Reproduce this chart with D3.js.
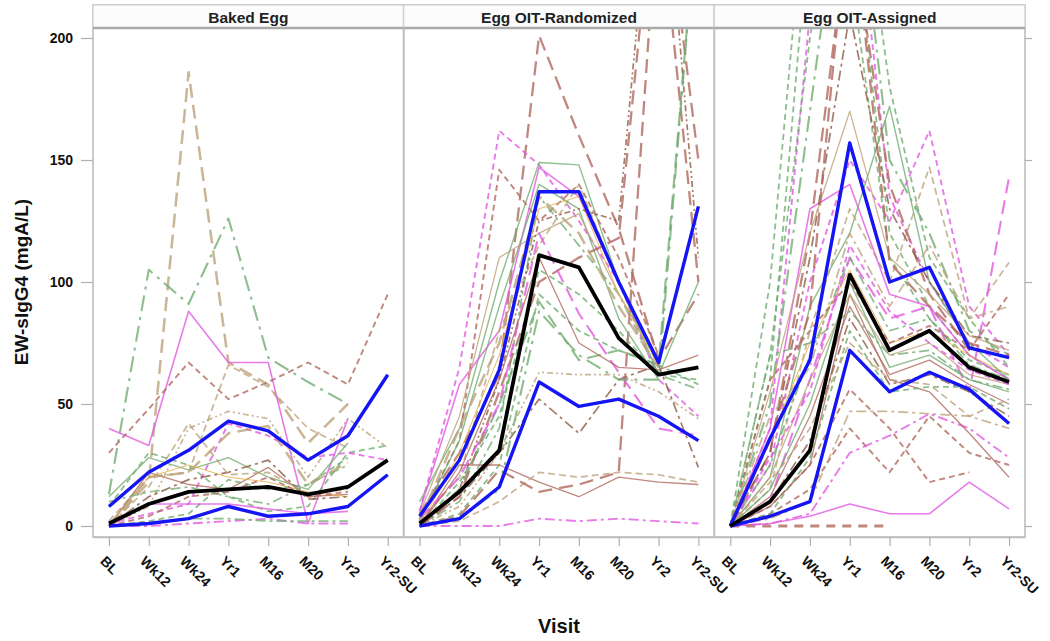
<!DOCTYPE html>
<html>
<head>
<meta charset="utf-8">
<script src="https://cdn.jsdelivr.net/npm/d3@7"></script>
<style>
  html, body { margin: 0; padding: 0; background: #fff; }
  svg { display: block; font-family: "Liberation Sans", Arial, sans-serif; }
</style>
</head>
<body>
<svg id="chart" width="1050" height="641"></svg>
<script>
// ---------------- DATA ----------------
const visits = ["BL", "Wk12", "Wk24", "Yr1", "M16", "M20", "Yr2", "Yr2-SU"];
const panelTitles = ["Baked Egg", "Egg OIT-Randomized", "Egg OIT-Assigned"];
const yTicks = [0, 50, 100, 150, 200];

// Baked Egg: individual subjects (BL..Yr2-SU)
const bakedEggSubjects = [
  [0, 18, 186, 67, 58, 34, 50, null],
  [13, 105, 91, 126, 69, 59, 50, null],
  [40, 33, 88, 67, 67, 1, 44, null],
  [30, 48, 67, 52, 59, 67, 58, 95],
  [2, 20, 22, 66, 57, 40, 32, null],
  [12, 28, 23, 28, 20, 15, 34, null],
  [8, 30, 25, 12, 6, 8, 30, 33],
  [1, 5, 9, 42, 37, 28, 30, 27],
  [0, 22, 17, 15, 24, 12, 13, null],
  [0, 8, 40, 47, 44, 20, 44, 32],
  [0, 2, 5, 19, 15, 17, 28, null],
  [0, 0, 1, 2, 3, 1, 1, null],
  [0, 1, 3, 3, 2, 2, 2, null],
  [0, 20, 25, 20, 18, 14, 12, null],
  [0, 12, 19, 22, 27, 11, 12, null],
  [0, 9, 9, 9, 7, 5, 6, null],
  [0, 16, 42, 21, 22, 13, 15, null],
  [10, 14, 16, 12, 9, 17, 25, null],
  [0, 4, 12, 14, 20, 12, 14, null],
  [0, 20, 22, 38, 41, 17, 26, null]
];
const bakedEggStyles = ["tanLong", "greenLongDot", "magSolid", "brownDash", "tanDash", "greenSolid",
  "greenDash", "magDash", "brownSolid", "tanDot", "greenDash", "magDashDot", "greenDashDot",
  "orangeSolid", "brownDashDot", "magSolid", "tanDash", "greenDashDot", "brownDash", "tanLong"];
const bakedEggUpper = [8, 22, 31, 43, 39, 27, 37, 62];
const bakedEggMedian = [1, 9, 14, 15, 16, 13, 16, 27];
const bakedEggLower = [0, 1, 3, 8, 4, 5, 8, 21];

// Egg OIT-Randomized
const randomizedSubjects = [
  [5, 30, 62, 201, 160, 122, 68, 95],
  [6, 65, 162, 148, 125, 100, 60, 45],
  [10, 40, 100, 149, 148, 100, 62, 100],
  [6, 58, 80, 147, 135, 100, 68, null],
  [3, 35, 146, 125, 140, 110, 70, null],
  [2, 20, 80, 115, 140, 100, 65, null],
  [0, 10, 40, 135, 115, 95, 62, 56],
  [1, 15, 50, 92, 68, 72, 66, 260],
  [0, 5, 25, 95, 80, 72, 66, 58],
  [0, 8, 30, 63, 62, 62, 55, 44],
  [0, 12, 30, 52, 38, 60, 66, 24],
  [0, 25, 25, 18, 12, 20, 18, 17],
  [0, 2, 10, 22, 20, 22, 21, 18],
  [0, 4, 23, 14, 17, 22, 260, 100],
  [0, 0, 0, 3, 2, 3, 2, 1],
  [2, 35, 90, 140, 130, 85, 60, null],
  [5, 45, 110, 120, 128, 95, 68, null],
  [0, 30, 70, 130, 135, 95, 66, null],
  [0, 15, 60, 125, 130, 125, 300, 110],
  [0, 12, 55, 100, 110, 118, 280, 150],
  [3, 20, 50, 120, 87, 63, 40, 37],
  [0, 18, 45, 105, 95, 80, 62, 60],
  [0, 22, 60, 110, 75, 65, 64, 70],
  [0, 3, 15, 88, 70, 60, 60, 260],
  [2, 40, 75, 135, 120, 90, 65, null]
];
const randomizedStyles = ["brownLong", "magDash", "greenSolid", "magSolid", "brownDash", "tanDash",
  "greenDashDot", "greenLong", "greenDash", "tanDot", "brownDashDot", "brownSolid", "tanDash",
  "brownLong", "magDashDot", "greenSolid", "tanSolid", "orangeSolid", "brownDot", "brownLong",
  "magLong", "greenDash", "brownSolid", "greenLongDot", "tanLong"];
const randomizedUpper = [4, 27, 64, 137, 137, 100, 67, 131];
const randomizedMedian = [1, 14, 31, 111, 106, 77, 62, 65];
const randomizedLower = [0, 3, 16, 59, 49, 52, 45, 35];

// Egg OIT-Assigned
const assignedSubjects = [
  [0, 60, 250, 260, 120, 90, 70, 60],
  [0, 100, 280, 230, 110, 85, 68, 62],
  [0, 40, 210, 280, 135, 100, 75, 65],
  [0, 30, 120, 250, 140, 95, 72, null],
  [0, 20, 90, 120, 172, 100, 75, 60],
  [0, 25, 100, 150, 125, 162, 90, 70],
  [0, 15, 80, 130, 100, 147, 85, 108],
  [0, 10, 60, 110, 85, 90, 55, 143],
  [0, 40, 130, 140, 95, 90, 70, 60],
  [0, 1, 4, 9, 5, 5, 18, 7],
  [0, 0, 0, 0, 0, null, null, null],
  [0, 5, 15, 40, 22, 45, 30, 25],
  [0, 8, 25, 56, 40, 18, 22, null],
  [0, 3, 10, 47, 47, 46, 45, 40],
  [0, 1, 5, 30, 37, 46, 40, 28],
  [0, 8, 25, 95, 60, 55, 38, 20],
  [0, 15, 50, 100, 65, 70, 60, 55],
  [0, 20, 60, 95, 70, 75, 62, 58],
  [0, 12, 45, 90, 62, 68, 58, 50],
  [0, 25, 70, 110, 80, 85, 66, 60],
  [0, 35, 75, 105, 75, 80, 70, 62],
  [0, 10, 35, 85, 58, 62, 55, 45],
  [0, 5, 28, 80, 55, 57, 57, 48],
  [0, 50, 170, 290, 150, 120, 80, 70],
  [0, 70, 200, 300, 180, 110, 85, 65],
  [0, 30, 110, 210, 130, 100, 78, 75],
  [0, 45, 65, 120, 90, 115, 85, 90],
  [0, 60, 80, 100, 75, 82, 72, 95],
  [0, 18, 40, 75, 60, 58, 45, 52],
  [0, 28, 55, 115, 88, 75, 64, 58],
  [0, 70, 75, 88, 70, 72, 60, 56],
  [0, 55, 120, 170, 110, 95, 78, 72],
  [0, 35, 88, 260, 108, 90, 75, 70]
];
const assignedStyles = ["greenDash", "greenDash", "magDash", "brownLong", "greenSolid", "magDash",
  "tanDash", "magLong", "magSolid", "magSolid", "brownThick", "brownDash", "brownDash",
  "tanDashDot", "magDashDot", "brownSolid", "greenSolid", "tanSolid", "brownSolid", "greenDashDot",
  "orangeSolid", "brownDashDot", "greenDash", "greenLongDot", "greenDash", "brownDashDot",
  "tanDashDot", "brownDash", "tanDash", "magDash", "greenDashDot", "tanSolid", "brownLong"];
const assignedUpper = [0, 36, 68, 157, 100, 106, 73, 69];
const assignedMedian = [0, 10, 31, 103, 72, 80, 65, 59];
const assignedLower = [0, 4, 10, 72, 55, 63, 56, 42];

// ---------------- STYLES ----------------
const tan = "#bda27c", green = "#72ad72", brown = "#b0695e", brown2 = "#8e5a46",
      magenta = "#e25ae2", orange = "#e6a93a";
const lineStyles = {
  tanLong:      { c: tan, d: "14,7", w: 2.5 },
  tanDash:      { c: tan, d: "7,4", w: 1.7 },
  tanSolid:     { c: tan, d: null, w: 1.3 },
  tanDot:       { c: tan, d: "6,3,2,3,2,3", w: 1.7 },
  tanDashDot:   { c: tan, d: "10,4,3,4", w: 1.7 },
  greenLongDot: { c: green, d: "16,6,3,6", w: 2.1 },
  greenLong:    { c: green, d: "14,7", w: 2.1 },
  greenSolid:   { c: green, d: null, w: 1.4 },
  greenDash:    { c: green, d: "6,4", w: 1.8 },
  greenDashDot: { c: green, d: "10,4,3,4", w: 1.7 },
  brownLong:    { c: brown, d: "14,7", w: 2.3 },
  brownDash:    { c: brown, d: "6,4", w: 1.9 },
  brownSolid:   { c: brown, d: null, w: 1.3 },
  brownDashDot: { c: brown2, d: "10,4,3,4", w: 1.7 },
  brownDot:     { c: brown2, d: "6,3,2,3,2,3", w: 1.7 },
  brownThick:   { c: brown, d: "9,7", w: 3.2 },
  magSolid:     { c: magenta, d: null, w: 1.6 },
  magDash:      { c: magenta, d: "6,4", w: 1.9 },
  magLong:      { c: magenta, d: "14,7", w: 2.1 },
  magDashDot:   { c: magenta, d: "10,4,3,4", w: 1.9 },
  orangeSolid:  { c: orange, d: null, w: 1.0 }
};

const panelsData = [
  { title: panelTitles[0], subjects: bakedEggSubjects, styles: bakedEggStyles, upper: bakedEggUpper, median: bakedEggMedian, lower: bakedEggLower },
  { title: panelTitles[1], subjects: randomizedSubjects, styles: randomizedStyles, upper: randomizedUpper, median: randomizedMedian, lower: randomizedLower },
  { title: panelTitles[2], subjects: assignedSubjects, styles: assignedStyles, upper: assignedUpper, median: assignedMedian, lower: assignedLower }
];

// ---------------- LAYOUT ----------------
const svg = d3.select("#chart");
const left = 93, right = 1025, headerTop = 5, plotTop = 28, plotBottom = 537;
const pw = (right - left) / 3;
const frameColor = "#bdbdbd";
const font = "'Liberation Sans', Arial, sans-serif";

const y = d3.scaleLinear().domain([0, 200]).range([526, 38]);

panelsData.forEach((p, i) => {
  const x0 = left + i * pw;
  const x = d3.scalePoint().domain(visits).range([x0, x0 + pw]).padding(0.4);
  const g = svg.append("g");

  const clipId = "clip" + i;
  svg.append("clipPath").attr("id", clipId)
    .append("rect").attr("x", x0).attr("y", plotTop).attr("width", pw).attr("height", plotBottom - plotTop);

  const line = d3.line()
    .defined(v => v != null)
    .x((v, k) => x(visits[k]))
    .y(v => y(v));

  const lines = g.append("g").attr("clip-path", `url(#${clipId})`);

  p.subjects.forEach((vals, k) => {
    const st = lineStyles[p.styles[k]];
    lines.append("path")
      .attr("d", line(vals))
      .attr("fill", "none")
      .attr("stroke", st.c)
      .attr("stroke-width", st.w)
      .attr("stroke-dasharray", st.d)
      .attr("stroke-opacity", 0.8)
      .attr("stroke-linejoin", "round");
  });

  [p.upper, p.lower].forEach(vals => {
    lines.append("path").attr("d", line(vals))
      .attr("fill", "none").attr("stroke", "#1414f5").attr("stroke-width", 3.4)
      .attr("stroke-linejoin", "round");
  });
  lines.append("path").attr("d", line(p.median))
    .attr("fill", "none").attr("stroke", "#000").attr("stroke-width", 3.8)
    .attr("stroke-linejoin", "round");

  // frame
  g.append("rect").attr("x", x0).attr("y", headerTop).attr("width", pw).attr("height", plotBottom - headerTop)
    .attr("fill", "none").attr("stroke", frameColor).attr("stroke-width", 1.6);
  // header
  g.append("rect").attr("x", x0).attr("y", headerTop).attr("width", pw).attr("height", plotTop - headerTop)
    .attr("fill", "#fcfcfc").attr("stroke", "#d0d0d0").attr("stroke-width", 1.2);
  g.append("line").attr("x1", x0).attr("x2", x0 + pw).attr("y1", plotTop).attr("y2", plotTop)
    .attr("stroke", "#a9a9a9").attr("stroke-width", 2.4);
  g.append("text").attr("x", x0 + pw / 2).attr("y", 23)
    .attr("text-anchor", "middle").attr("font-family", font).attr("font-weight", "bold")
    .attr("font-size", 15.5).attr("fill", "#222").text(p.title);

  // bottom axis
  const ax = g.append("g").attr("transform", `translate(0,${plotBottom})`)
    .call(d3.axisBottom(x).tickSize(9).tickSizeOuter(0));
  ax.select(".domain").attr("stroke", frameColor).attr("stroke-width", 1.6);
  ax.selectAll(".tick line").attr("stroke", "#b0b0b0").attr("stroke-width", 1.2);
  ax.selectAll(".tick text")
    .attr("x", 0).attr("y", 0).attr("dy", null)
    .attr("transform", "translate(-10,25) rotate(45)")
    .style("text-anchor", "start")
    .attr("font-family", font).attr("font-weight", "bold").attr("font-size", 14).attr("fill", "#111");

  if (i === 2) {
    const ar = g.append("g").attr("transform", `translate(${right},0)`)
      .call(d3.axisRight(y).tickValues(yTicks).tickSize(7).tickFormat(""));
    ar.select(".domain").remove();
    ar.selectAll(".tick line").attr("stroke", "#b0b0b0").attr("stroke-width", 1.2);
  }
});

// left axis
const ay = svg.append("g").attr("transform", `translate(${left},0)`)
  .call(d3.axisLeft(y).tickValues(yTicks).tickSize(12).tickPadding(8));
ay.select(".domain").remove();
ay.selectAll(".tick line").attr("stroke", "#b0b0b0").attr("stroke-width", 1.2);
ay.selectAll(".tick text").attr("font-family", font).attr("font-weight", "bold")
  .attr("font-size", 14).attr("fill", "#111");

// axis titles
svg.append("text").attr("transform", "translate(28,282) rotate(-90)")
  .attr("text-anchor", "middle").attr("font-family", font).attr("font-weight", "bold")
  .attr("font-size", 19).attr("fill", "#111").text("EW-sIgG4 (mgA/L)");
svg.append("text").attr("x", 559).attr("y", 633)
  .attr("text-anchor", "middle").attr("font-family", font).attr("font-weight", "bold")
  .attr("font-size", 20).attr("fill", "#111").text("Visit");
</script>
</body>
</html>
